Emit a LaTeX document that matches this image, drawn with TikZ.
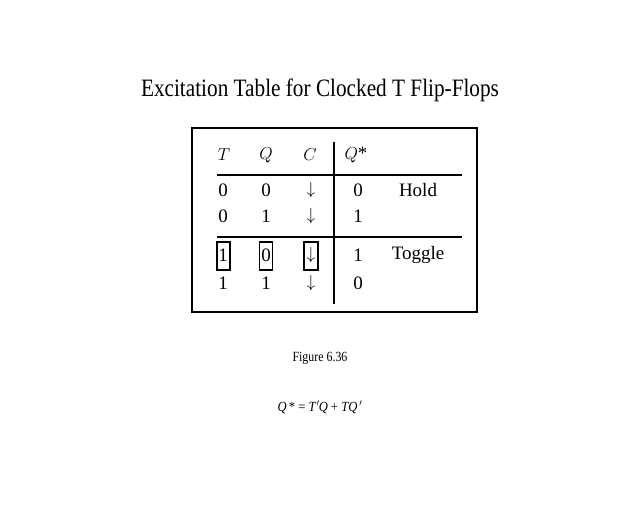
\documentclass[tikz,border=0pt]{standalone}
\usepackage{fontspec}
\setmainfont{Liberation Serif}
\begin{document}
\begin{tikzpicture}[x=1pt,y=-1pt,
  cell/.style={font=\fontsize{19}{19}\selectfont,inner sep=0pt},
  small/.style={font=\fontsize{14}{14}\selectfont,inner sep=0pt},
  hl/.style={draw,line width=1.2pt,minimum width=13pt,minimum height=28pt,inner sep=0pt}]
\useasboundingbox (0,0) rectangle (640,512);
\node[inner sep=0pt,font=\fontsize{25}{25}\selectfont] (title) at (320,90) {\scalebox{0.85}[1]{Excitation Table for Clocked T Flip-Flops}};
\node[draw,line width=1.2pt,minimum width=285pt,minimum height=184pt,inner sep=0pt] (frame) at (334.5,220) {};
\coordinate (vt) at (334,142); \coordinate (vb) at (334,304);
\draw[line width=1.2pt] (vt) -- (vb);
\coordinate (h1l) at (217,175); \coordinate (h1r) at (462,175);
\coordinate (h2l) at (217,237); \coordinate (h2r) at (462,237);
\draw[line width=1.2pt] (h1l) -- (h1r);
\draw[line width=1.2pt] (h2l) -- (h2r);
\node[cell] (hT) at (224,155) {$T$};
\node[cell] (hQ) at (266,155) {$Q$};
\node[cell] (hC) at (310,155) {$C$};
\node[cell] (hQs) at (356,155) {$Q$*};
\node[cell] (a1) at (223,190) {0}; \node[cell] (a2) at (266,190) {0}; \node[cell] (a3) at (311,190) {$\downarrow$}; \node[cell] (a4) at (358,190) {0}; \node[cell] (hold) at (418,190) {Hold};
\node[cell] (b1) at (223,216) {0}; \node[cell] (b2) at (266,216) {1}; \node[cell] (b3) at (311,216) {$\downarrow$}; \node[cell] (b4) at (358,216) {1};
\node[cell] (c1) at (223,255) {1}; \node[cell] (c2) at (266,255) {0}; \node[cell] (c3) at (311,255) {$\downarrow$}; \node[cell] (c4) at (358,255) {1}; \node[cell] (tog) at (418,255) {Toggle};
\node[cell] (d1) at (223,283) {1}; \node[cell] (d2) at (266,283) {1}; \node[cell] (d3) at (311,283) {$\downarrow$}; \node[cell] (d4) at (358,283) {0};
\node[hl] (k1) at (223.5,256) {};
\node[hl] (k2) at (266,256) {};
\node[hl,minimum width=14pt] (k3) at (311,256) {};
\node[small] (fig) at (320,358) {\scalebox{0.85}[1]{Figure 6.36}};
\node[small] (eq) at (320,407) {\scalebox{0.9}[1]{\textit{Q}\,* = \textit{T\/}\kern0.5pt$'$\kern-1pt\textit{Q} + \textit{TQ\,}$'$}};
\end{tikzpicture}
\end{document}
